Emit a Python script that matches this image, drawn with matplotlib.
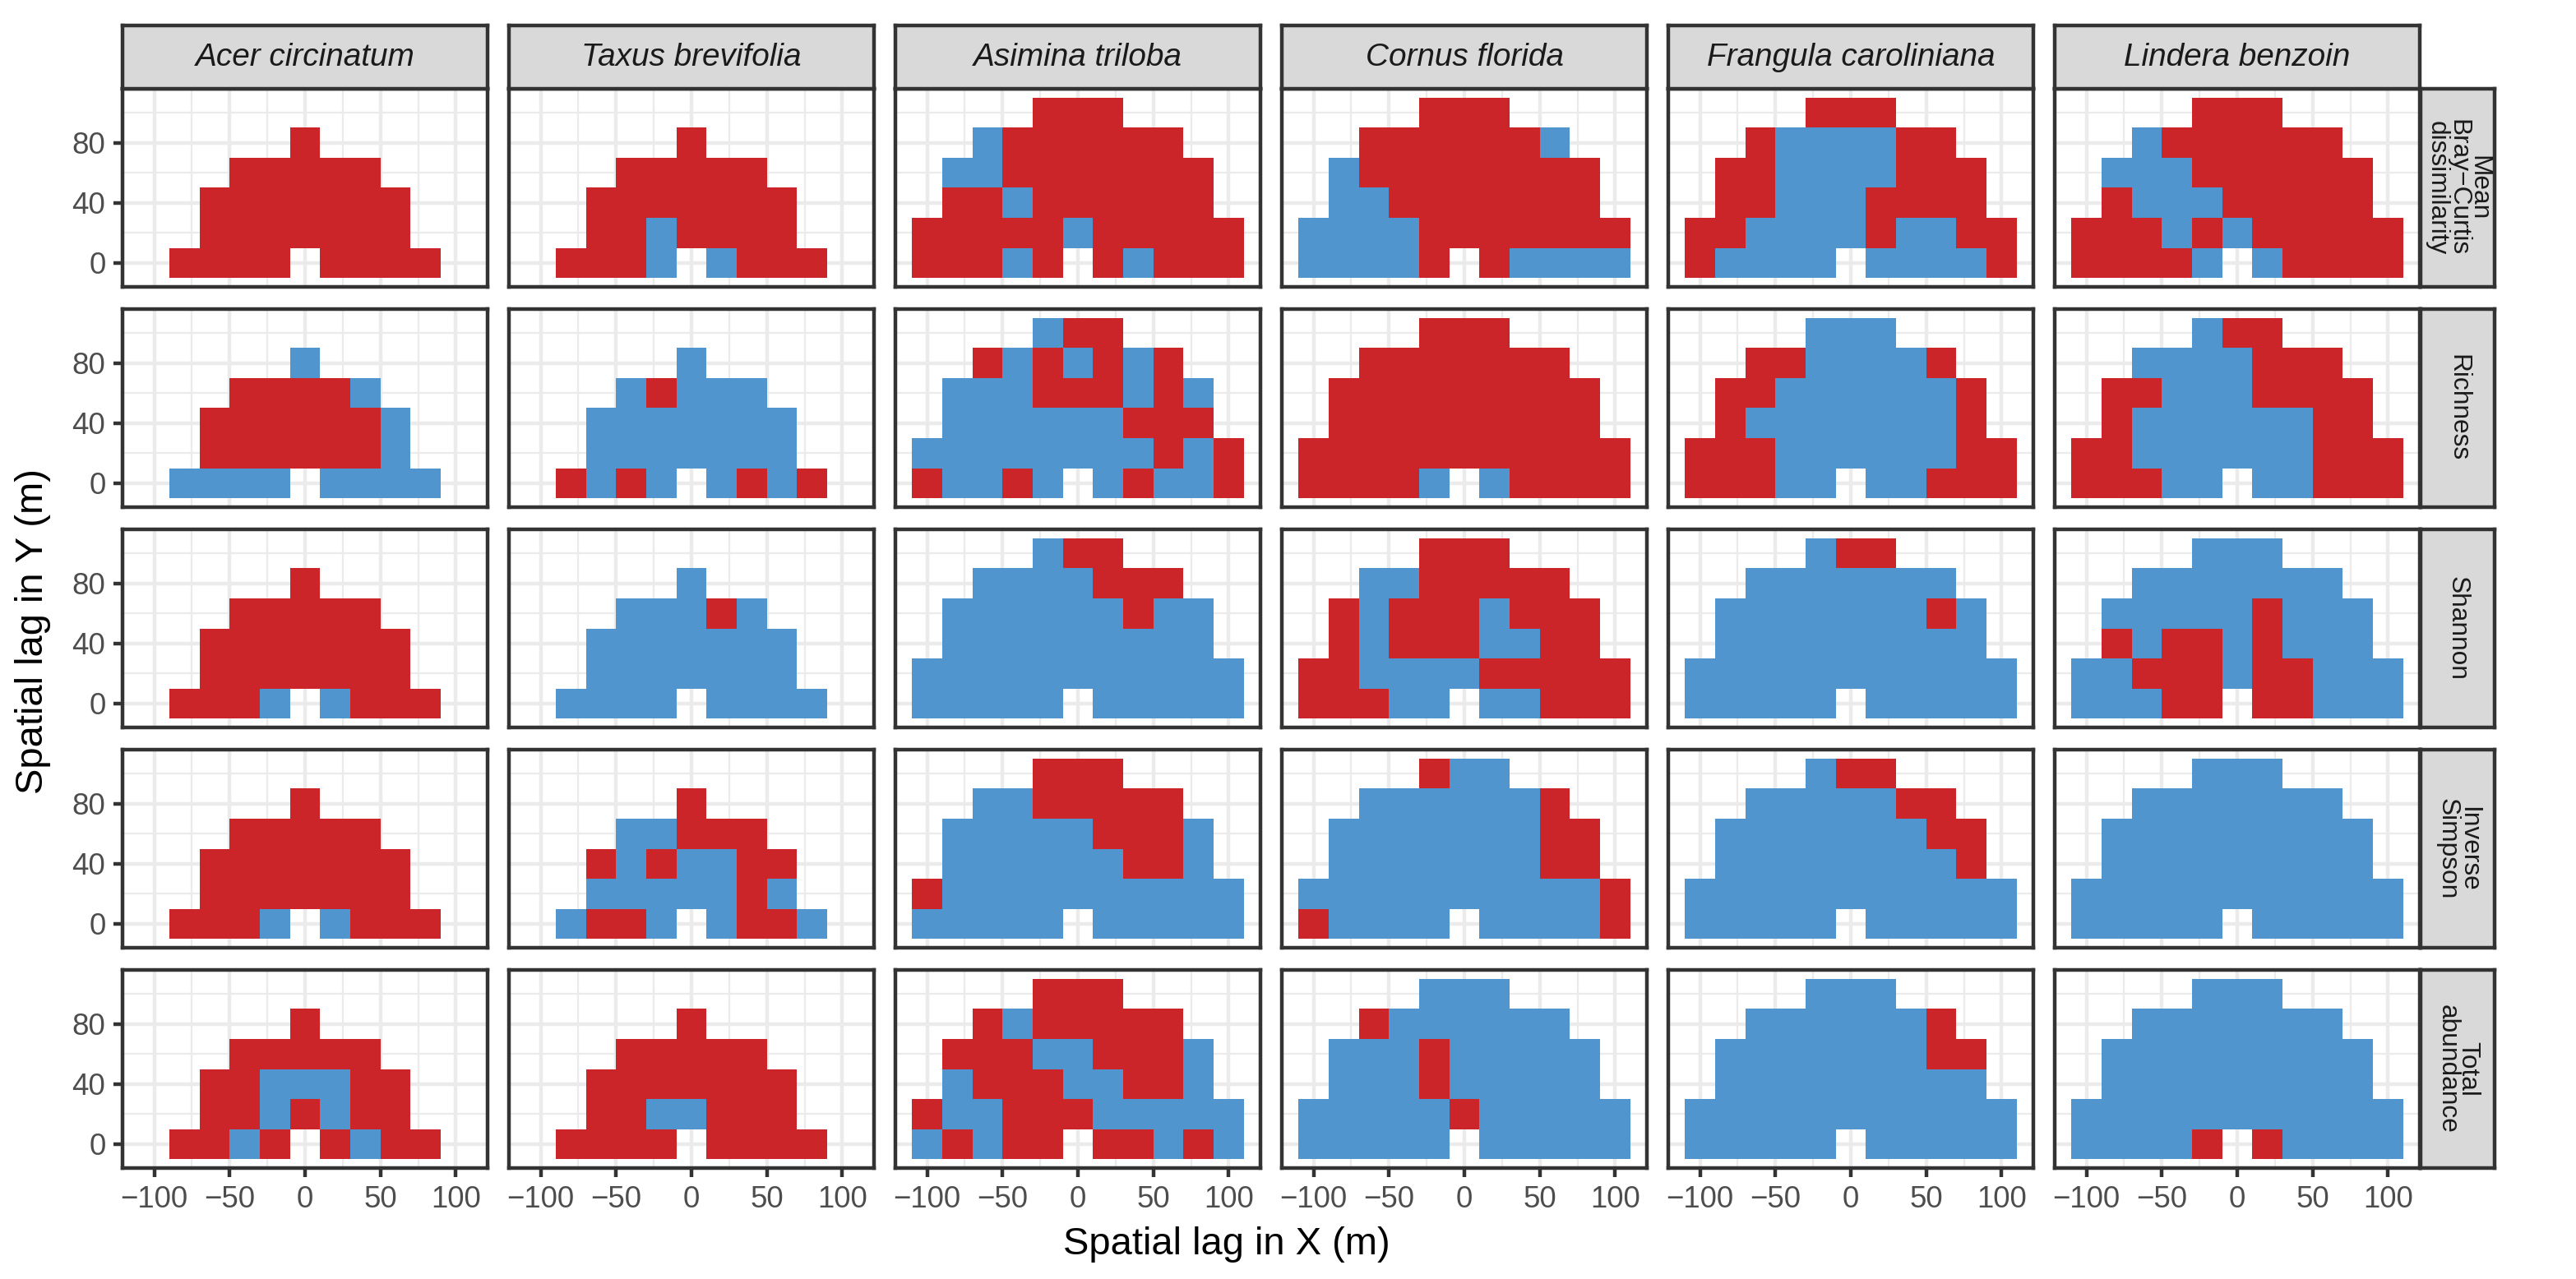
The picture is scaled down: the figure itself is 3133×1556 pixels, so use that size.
import numpy as np
import matplotlib
matplotlib.use("Agg")
import matplotlib.pyplot as plt
from matplotlib.colors import ListedColormap

plt.rcParams['font.family'] = ['Liberation Sans', 'DejaVu Sans']

# ---------------- data ----------------
species = ["Acer circinatum", "Taxus brevifolia", "Asimina triloba",
           "Cornus florida", "Frangula caroliniana", "Lindera benzoin"]
metric_labels = ["Mean\nBray\u2212Curtis\ndissimilarity", "Richness", "Shannon",
                 "Inverse\nSimpson", "Total\nabundance"]
x_lags = [-100, -80, -60, -40, -20, 0, 20, 40, 60, 80, 100]
y_lags = [0, 20, 40, 60, 80, 100]
x_ticks = [-100, -50, 0, 50, 100]
y_ticks = [0, 40, 80]

# each grid: rows from y=100 (top) down to y=0; columns x=-100..100
# R = red class, B = blue class, . = no tile
bray_curtis = [
    ["...........", ".....R.....", "...RRRRR...", "..RRRRRRR..", "..RRRRRRR..", ".RRRR.RRRR."],
    ["...........", ".....R.....", "...RRRRR...", "..RRRRRRR..", "..RRBRRRR..", ".RRRB.BRRR."],
    ["....RRR....", "..BRRRRRR..", ".BBRRRRRRR.", ".RRBRRRRRR.", "RRRRRBRRRRR", "RRRBR.RBRRR"],
    ["....RRR....", "..RRRRRRB..", ".BRRRRRRRR.", ".BBRRRRRRR.", "BBBBRRRRRRR", "BBBBR.RBBBB"],
    ["....RRR....", "..RBBBBRR..", ".RRBBBBRRR.", ".RRBBBRRRR.", "RRBBBBRBBRR", "RBBBB.BBBBR"],
    ["....RRR....", "..BRRRRRR..", ".BBBRRRRRR.", ".RBBBRRRRR.", "RRRBRBRRRRR", "RRRRB.BRRRR"],
]
richness = [
    ["...........", ".....B.....", "...RRRRB...", "..RRRRRRB..", "..RRRRRRB..", ".BBBB.BBBB."],
    ["...........", ".....B.....", "...BRBBB...", "..BBBBBBB..", "..BBBBBBB..", ".RBRB.BRBR."],
    ["....BRR....", "..RBRBRBR..", ".BBBRRRBRB.", ".BBBBBBRRR.", "BBBBBBBBRBR", "RBBRB.BRBBR"],
    ["....RRR....", "..RRRRRRR..", ".RRRRRRRRR.", ".RRRRRRRRR.", "RRRRRRRRRRR", "RRRRB.BRRRR"],
    ["....BBB....", "..RRBBBBR..", ".RRBBBBBBR.", ".RBBBBBBBR.", "RRRBBBBBBRR", "RRRBB.BBRRR"],
    ["....BRR....", "..BBBBRRR..", ".RRBBBRRRR.", ".RBBBBBBRR.", "RRBBBBBBRRR", "RRRBB.BBRRR"],
]
shannon = [
    ["...........", ".....R.....", "...RRRRR...", "..RRRRRRR..", "..RRRRRRR..", ".RRRB.BRRR."],
    ["...........", ".....B.....", "...BBBRB...", "..BBBBBBB..", "..BBBBBBB..", ".BBBB.BBBB."],
    ["....BRR....", "..BBBBRRR..", ".BBBBBBRBB.", ".BBBBBBBBB.", "BBBBBBBBBBB", "BBBBB.BBBBB"],
    ["....RRR....", "..BBRRRRR..", ".RBRRRBRRR.", ".RBRRRBBRR.", "RRBBBBRRRRR", "RRRBB.BBRRR"],
    ["....BRR....", "..BBBBBBB..", ".BBBBBBBRB.", ".BBBBBBBBB.", "BBBBBBBBBBB", "BBBBB.BBBBB"],
    ["....BBB....", "..BBBBBBB..", ".BBBBBRBBB.", ".RBRRBRBBB.", "BBRRRBRRBBB", "BBBRR.RRBBB"],
]
inv_simpson = [
    ["...........", ".....R.....", "...RRRRR...", "..RRRRRRR..", "..RRRRRRR..", ".RRRB.BRRR."],
    ["...........", ".....R.....", "...BBRRR...", "..RBRBBRR..", "..BBBBBRB..", ".BRRB.BRRB."],
    ["....RRR....", "..BBRRRRR..", ".BBBBBRRRB.", ".BBBBBBRRB.", "RBBBBBBBBBB", "BBBBB.BBBBB"],
    ["....RBB....", "..BBBBBBR..", ".BBBBBBBRR.", ".BBBBBBBRR.", "BBBBBBBBBBR", "RBBBB.BBBBR"],
    ["....BRR....", "..BBBBBRR..", ".BBBBBBBRR.", ".BBBBBBBBR.", "BBBBBBBBBBB", "BBBBB.BBBBB"],
    ["....BBB....", "..BBBBBBB..", ".BBBBBBBBB.", ".BBBBBBBBB.", "BBBBBBBBBBB", "BBBBB.BBBBB"],
]
total_abundance = [
    ["...........", ".....R.....", "...RRRRR...", "..RRBBBRR..", "..RRBRBRR..", ".RRBR.RBRR."],
    ["...........", ".....R.....", "...RRRRR...", "..RRRRRRR..", "..RRBBRRR..", ".RRRR.RRRR."],
    ["....RRR....", "..RBRRRRR..", ".RRRBBRRRB.", ".BRRRBBRRB.", "RBBRRRBBBBB", "BRBRR.RRBRB"],
    ["....BBB....", "..RBBBBBB..", ".BBBRBBBBB.", ".BBBRBBBBB.", "BBBBBRBBBBB", "BBBBB.BBBBB"],
    ["....BBB....", "..BBBBBBR..", ".BBBBBBBRR.", ".BBBBBBBBB.", "BBBBBBBBBBB", "BBBBB.BBBBB"],
    ["....BBB....", "..BBBBBBB..", ".BBBBBBBBB.", ".BBBBBBBBB.", "BBBBBBBBBBB", "BBBBR.RBBBB"],
]
metric_grids = [bray_curtis, richness, shannon, inv_simpson, total_abundance]

# ---------------- style ----------------
RED = "#CC2529"
BLUE = "#5095CD"
W, H = 3133, 1556
DPI = 300
fig = plt.figure(figsize=(W / DPI, H / DPI), dpi=DPI)
fig.patch.set_facecolor("white")

def fbox(x0, y0, w, h):
    return [x0 / W, 1 - (y0 + h) / H, w / W, h / H]

PL, PW, PSTEP = 149, 444, 470
PT, PH, RSTEP = 108, 241, 268
STRIP_TOP, STRIP_H = 31, 77
RSTRIP_L, RSTRIP_W = 2944, 90
BORDER = "#333333"
LW = 1.07

cmap = ListedColormap([BLUE, RED])
xs = np.array(x_lags, dtype=float)
ys = np.array(y_lags, dtype=float)
dx = xs[1] - xs[0]
dy = ys[1] - ys[0]
x_edges = np.concatenate([xs - dx / 2, [xs[-1] + dx / 2]])
y_edges = np.concatenate([ys - dy / 2, [ys[-1] + dy / 2]])

for r, grids in enumerate(metric_grids):
    for c, grid in enumerate(grids):
        ax = fig.add_axes(fbox(PL + c * PSTEP, PT + r * RSTEP, PW, PH))
        rows = grid[::-1]  # bottom (y=0) first
        vals = np.full((len(ys), len(xs)), np.nan)
        for i, row in enumerate(rows):
            for j, ch in enumerate(row):
                if ch == "R":
                    vals[i, j] = 1
                elif ch == "B":
                    vals[i, j] = 0
        ax.pcolormesh(x_edges, y_edges, np.ma.masked_invalid(vals), cmap=cmap,
                      vmin=0, vmax=1, shading="flat", edgecolors="none",
                      linewidth=0, antialiased=False, zorder=2)
        ax.set_xlim(-121, 121)
        ax.set_ylim(-16, 116)
        ax.set_xticks(x_ticks)
        ax.set_yticks(y_ticks)
        ax.set_xticks([-75, -25, 25, 75], minor=True)
        ax.set_yticks([20, 60, 100], minor=True)
        ax.set_axisbelow(True)
        ax.grid(which="major", color="#EBEBEB", linewidth=LW)
        ax.grid(which="minor", color="#EBEBEB", linewidth=LW * 0.5)
        for sp in ax.spines.values():
            sp.set_color(BORDER)
            sp.set_linewidth(LW)
            sp.set_zorder(5)
        ax.tick_params(which="minor", length=0)
        ax.tick_params(which="major", length=2.75, width=LW, color=BORDER,
                       labelsize=8.8, labelcolor="#4D4D4D", pad=2.2)
        if c != 0:
            ax.tick_params(axis="y", which="major", length=0, labelleft=False)
        if r != len(metric_grids) - 1:
            ax.tick_params(axis="x", which="major", length=0, labelbottom=False)

# top strips
for c, sp_name in enumerate(species):
    sax = fig.add_axes(fbox(PL + c * PSTEP, STRIP_TOP, PW, STRIP_H))
    sax.set_facecolor("#D9D9D9")
    sax.set_xticks([]); sax.set_yticks([])
    for sp in sax.spines.values():
        sp.set_color(BORDER); sp.set_linewidth(LW)
    sax.text(0.5, 0.5, sp_name, ha="center", va="center", fontsize=9.3,
             style="italic", color="#1A1A1A", transform=sax.transAxes)

# right strips
for r, lab in enumerate(metric_labels):
    sax = fig.add_axes(fbox(RSTRIP_L, PT + r * RSTEP, RSTRIP_W, PH))
    sax.set_facecolor("#D9D9D9")
    sax.set_xticks([]); sax.set_yticks([])
    for sp in sax.spines.values():
        sp.set_color(BORDER); sp.set_linewidth(LW)
    sax.text(0.5, 0.5, lab, ha="center", va="center", fontsize=7.6,
             rotation=-90, color="#1A1A1A", linespacing=0.8,
             multialignment="center", transform=sax.transAxes)

# axis titles
fig.text(1492 / W, 1 - 1514 / H, "Spatial lag in X (m)", ha="center", va="center",
         fontsize=11.3, color="black")
fig.text(40 / W, 1 - 768 / H, "Spatial lag in Y (m)", ha="center", va="center",
         fontsize=11.3, rotation=90, color="black")

fig.savefig("out.png", dpi=DPI, facecolor="white")
